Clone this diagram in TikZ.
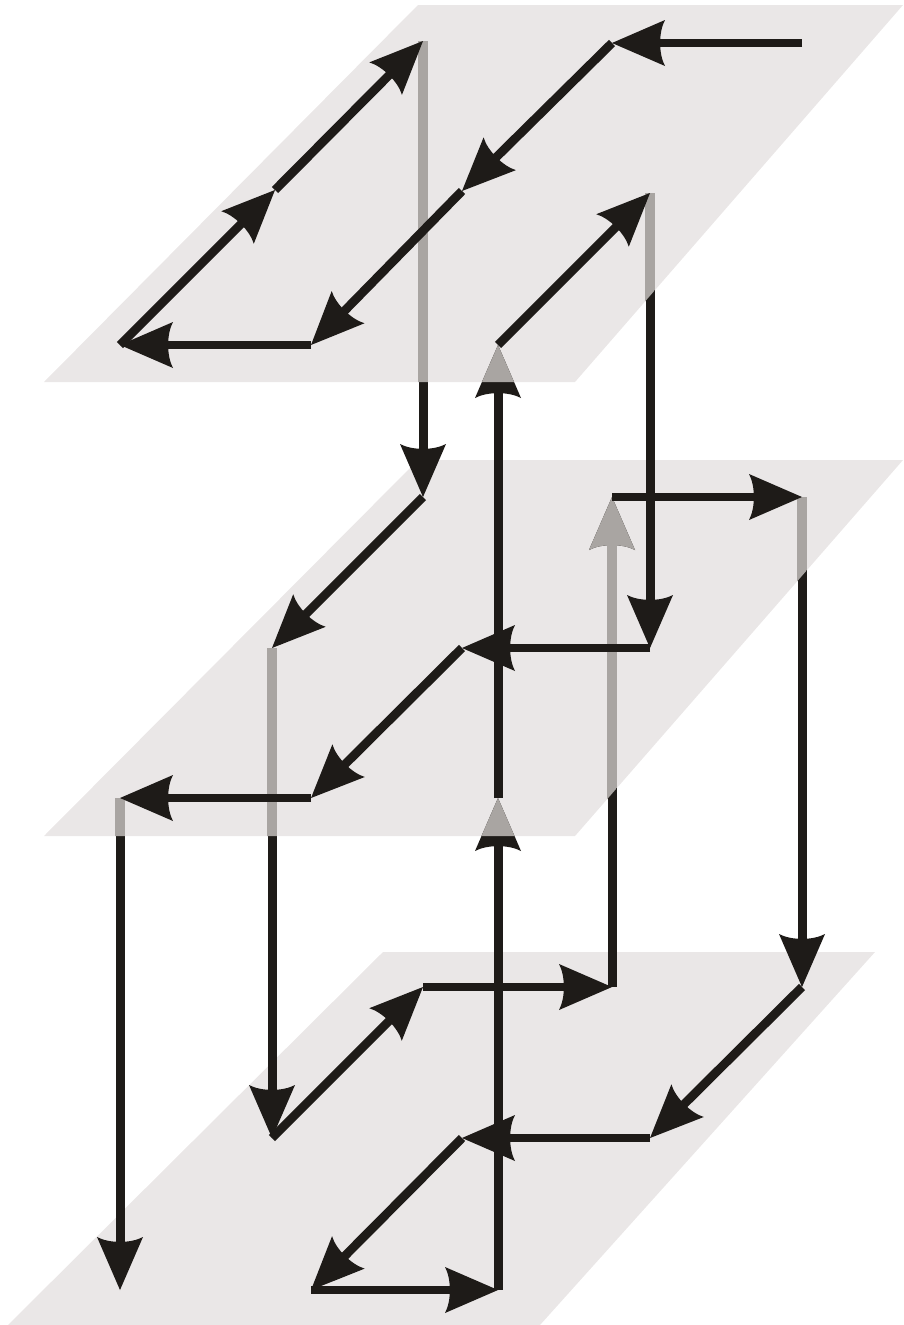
\documentclass[tikz,border=0pt]{standalone}
\usetikzlibrary{arrows.meta}
\definecolor{planec}{HTML}{EAE7E7}
\definecolor{inkc}{HTML}{1E1B18}
\definecolor{ghostc}{HTML}{A9A5A2}
\pgfdeclarearrow{
  name=Barb,
  cache=false,
  setup code={\pgfarrowssettipend{0pt}\pgfarrowssetlineend{-46pt}\pgfarrowssetvisualbackend{-50pt}},
  drawing code={
    \pgfsetlinewidth{0pt}
    \pgfpathmoveto{\pgfqpoint{0pt}{0pt}}
    \pgfpathlineto{\pgfqpoint{-53pt}{23pt}}
    \pgfpathcurveto{\pgfqpoint{-46.5pt}{11pt}}{\pgfqpoint{-46.5pt}{-11pt}}{\pgfqpoint{-53pt}{-23pt}}
    \pgfpathclose
    \pgfusepathqfill
  }
}
\tikzset{
  plane/.style={fill=planec,draw=none},
  conn/.style={draw=inkc,line width=8.8pt,-{Barb},line cap=butt},
  riser/.style={draw=inkc,line width=9pt,-{Barb},line cap=butt},
  ghost/.style={draw=ghostc,line width=10pt,-{Barb[]},line cap=butt},
}
\begin{document}
\begin{tikzpicture}[x=1pt,y=-1pt]
\useasboundingbox (0,0) rectangle (903,1325);
% planes
\coordinate (a1) at (418,5);  \coordinate (a2) at (903,5);  \coordinate (a3) at (575,382); \coordinate (a4) at (44,382);
\coordinate (b1) at (418,460);\coordinate (b2) at (903,460);\coordinate (b3) at (575,836); \coordinate (b4) at (44,836);
\coordinate (c1) at (383,952);\coordinate (c2) at (875,952);\coordinate (c3) at (540,1325);\coordinate (c4) at (8,1325);
\fill[plane] (a1)--(a2)--(a3)--(a4)--cycle;
\fill[plane] (b1)--(b2)--(b3)--(b4)--cycle;
\fill[plane] (c1)--(c2)--(c3)--(c4)--cycle;
% path points
\coordinate (s) at (802,43);   \coordinate (t1) at (612,43);  \coordinate (t2) at (462,191);
\coordinate (t3) at (311,345); \coordinate (t4) at (120,345); \coordinate (t5) at (275,190);
\coordinate (t6) at (423,41);  \coordinate (m1) at (423,497); \coordinate (m2) at (272,648);
\coordinate (l1) at (272,1138);\coordinate (l2) at (423,987); \coordinate (l3) at (612,987);
\coordinate (m3) at (612,497); \coordinate (m4) at (802,497); \coordinate (l4) at (802,987);
\coordinate (l5) at (650,1138);\coordinate (l6) at (462,1138);\coordinate (l7) at (311,1290);
\coordinate (l8) at (498,1290);\coordinate (m5) at (498,798); \coordinate (t7) at (498,345);
\coordinate (t8) at (650,193); \coordinate (m6) at (650,648); \coordinate (m7) at (462,648);
\coordinate (m8) at (311,798); \coordinate (m9) at (120,798); \coordinate (l9) at (120,1290);
% vertical connectors
\draw[riser] (t6)--(m1);
\draw[riser] (m2)--(l1);
\draw[riser] (l3)--(m3);
\draw[riser] (m4)--(l4);
\draw[riser] (l8)--(m5);
\draw[riser] (m5)--(t7);
\draw[riser] (t8)--(m6);
\draw[riser] (m9)--(l9);
% parts of the verticals lying in their own plane
\begin{scope}
\clip (a1)--(a2)--(a3)--(a4)--cycle;
\draw[ghost] (t6)--(m1);
\draw[ghost] (t8)--(m6);
\draw[ghost] (m5)--(t7);
\end{scope}
\begin{scope}
\clip (b1)--(b2)--(b3)--(b4)--cycle;
\draw[ghost] (m2)--(l1);
\draw[ghost] (m4)--(l4);
\draw[ghost] (m9)--(l9);
\draw[ghost] (l3)--(m3);
\draw[ghost] (l8)--(m5);
\end{scope}
% in-plane connectors
\draw[conn] (s)--(t1);
\draw[conn] (t1)--(t2);
\draw[conn] (t2)--(t3);
\draw[conn] (t3)--(t4);
\draw[conn] (t4)--(t5);
\draw[conn] (t5)--(t6);
\draw[conn] (m1)--(m2);
\draw[conn] (l1)--(l2);
\draw[conn] (l2)--(l3);
\draw[conn] (m3)--(m4);
\draw[conn] (l4)--(l5);
\draw[conn] (l5)--(l6);
\draw[conn] (l6)--(l7);
\draw[conn] (l7)--(l8);
\draw[conn] (t7)--(t8);
\draw[conn] (m6)--(m7);
\draw[conn] (m7)--(m8);
\draw[conn] (m8)--(m9);
\end{tikzpicture}
\end{document}
